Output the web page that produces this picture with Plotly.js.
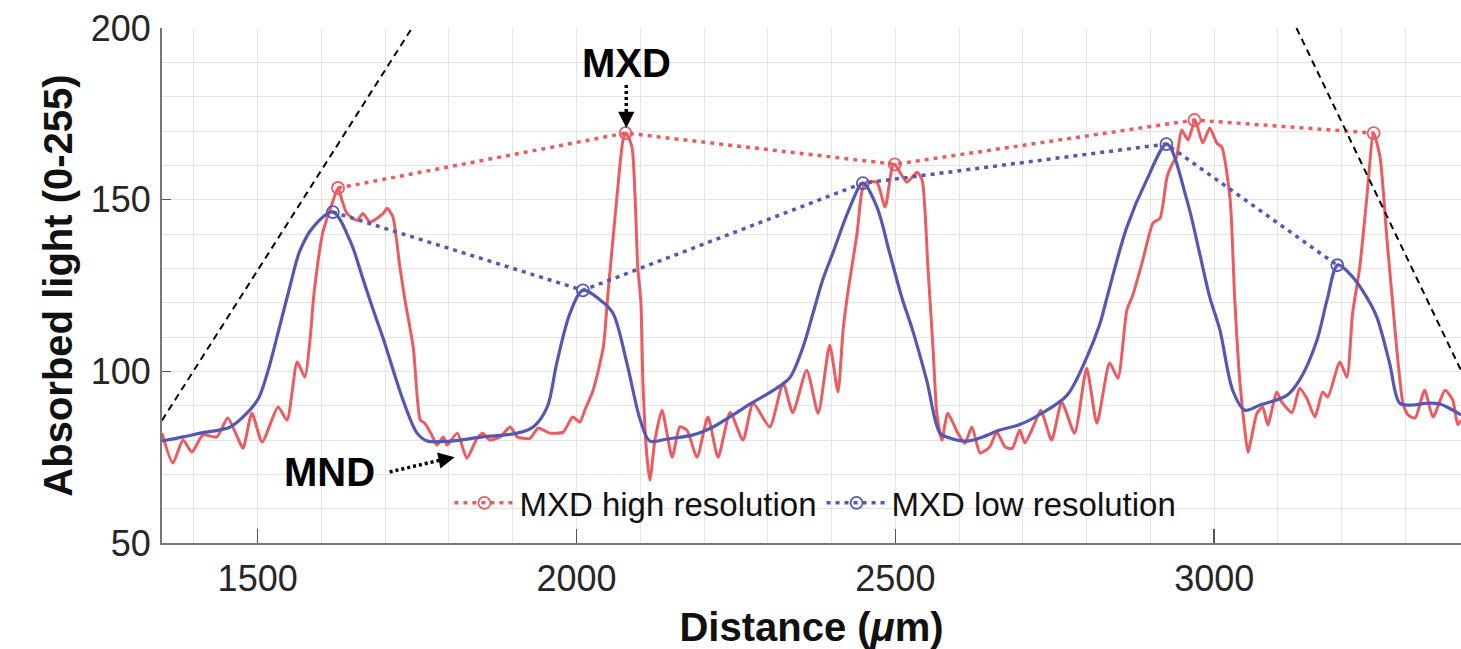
<!DOCTYPE html>
<html>
<head>
<meta charset="utf-8">
<script src="https://cdn.plot.ly/plotly-3.0.1.min.js"></script>
<style>
  html, body { margin: 0; padding: 0; background: #ffffff; }
  #chart { width: 1461px; height: 649px; }
</style>
</head>
<body>
<div id="chart"></div>
<script>
// ---------- Data ----------
// High-resolution absorbed-light profile (red solid)
const redX = [1350,1367,1383,1397,1414,1436,1453,1468,1477,1491,1507,1532,1546,1562,1574,1582,1588,1602,1617,1626,1632,1640,1656,1665,1676,1697,1703,1712,1723,1731,1744,1755,1762,1773,1781,1791,1797,1813,1828,1844,1853,1864,1880,1896,1907,1927,1940,1958,1979,1994,2005,2013,2026,2042,2049,2063,2073,2078,2087,2092,2096,2101,2104,2110,2115,2123,2134,2150,2162,2173,2189,2206,2222,2241,2261,2277,2303,2324,2339,2361,2379,2397,2410,2418,2426,2440,2448,2455,2471,2484,2495,2499,2518,2534,2542,2551,2559,2565,2573,2582,2598,2609,2620,2633,2648,2659,2672,2683,2695,2703,2716,2728,2745,2761,2781,2800,2816,2836,2849,2863,2872,2888,2904,2915,2926,2935,2941,2949,2959,2970,2982,2993,3004,3012,3025,3032,3040,3048,3053,3067,3076,3084,3098,3106,3122,3134,3145,3158,3170,3178,3197,3208,3217,3228,3239,3250,3260,3271,3279,3286,3296,3304,3315,3330,3343,3362,3374,3382,3387];
const redY = [82,73.3,80,76.5,81.5,80.9,86.4,80.9,77.6,87.8,79.4,89.6,85.8,102.7,98.3,109,122,140.3,149,153.4,150,146,144,146,143.5,146,147.5,145,130.4,120.8,107,85.8,84.9,81.5,78.5,80.9,78.5,82,74.7,80.5,82,80,80.9,83.8,80.9,80.5,83.5,82,82.3,86.7,85.2,88.7,94.5,107,122,150,167.4,169.4,165.3,150,130.4,120,97.5,76.2,68.3,80,88.7,75,83.8,82.9,75,86.7,75,88,80,90.7,83.8,96.6,88,100.3,87.8,107.6,94,112,123.6,140.3,152.8,155.1,155.1,147.9,159.5,160.3,155.1,158,155.7,130.4,107,87.8,80,87.8,82,79,83.8,76.2,78,82.3,78,77.5,82.9,79.2,83.8,88.7,80,91,82,100.9,84.9,102.4,98,117.8,122,132.4,143.2,144.6,156.6,160.7,162.4,170.3,167.4,173.2,166.5,170.9,166.5,165.3,150,121.6,97.5,82.9,76.5,87.8,89.6,84.4,94,91,88,95.1,92.2,86.7,94,92.5,102.7,98.3,117,130,150,169.4,162.4,138.2,121.6,107,90.7,87.3,86.4,94.5,86.7,94.5,91.6,84.4,85.8];

// Low-resolution absorbed-light profile (blue solid)
const blueX = [1350,1383,1410,1457,1483,1501,1516,1533,1551,1566,1587,1618,1645,1665,1681,1697,1728,1750,1766,1802,1853,1907,1932,1954,1969,1990,2010,2037,2057,2079,2100,2115,2142,2183,2214,2245,2277,2314,2335,2355,2371,2386,2402,2429,2449,2471,2491,2510,2527,2549,2570,2585,2612,2637,2664,2695,2727,2769,2800,2821,2832,2863,2894,2926,2957,2977,2993,3009,3029,3048,3072,3114,3134,3161,3177,3194,3217,3239,3255,3275,3291,3311,3333,3354,3374,3387];
const blueY = [79.7,80.9,82,83.8,87.8,92,100,112,125,135,142,146.4,138,127,118,109.5,91.6,82,79.7,79.7,80.9,82,83.8,89.6,102.4,117,123.6,120.8,117,102.4,85.8,79.7,80.3,81.5,83.8,87.3,91,95.1,98.3,107,117,126.6,134.5,147.9,154.8,147.9,134.5,121.6,112,97.5,82,80.6,79.7,80.9,82.9,84.5,87.5,93,104,114,121.6,142,155.7,166.2,150,134.5,121.6,112,94.5,88.7,90.2,93,97.5,109,120.8,131,127.5,121.6,115.8,102.4,90.7,90.2,90.7,90.5,88.7,87.3];

// MXD (maximum density) points
const mxdHighX = [1626, 2077, 2499, 2969, 3250];
const mxdHighY = [153.4, 169.4, 160.3, 173.2, 169.4];
const mxdLowX  = [1618, 2010, 2449, 2925, 3193];
const mxdLowY  = [146.4, 123.6, 154.8, 166.2, 130.9];

// Dashed guide lines
const guideLeftX  = [1350, 1742];
const guideLeftY  = [85.7, 200];
const guideRightX = [3129, 3387];
const guideRightY = [200, 100.3];

// Labels
const seriesNames = ["MXD high resolution", "MXD low resolution"];
const xTicks = [1500, 2000, 2500, 3000];
const yTicks = [50, 100, 150, 200];

// ---------- Styling ----------
const RED = "#ec5b5f";
const BLUE = "#5558b2";
const FONT = "Liberation Sans, Arial, Helvetica, sans-serif";

const traces = [
  { x: redX, y: redY, type: "scatter", mode: "lines", showlegend: false, hoverinfo: "skip",
    line: { color: RED, width: 3, shape: "spline", smoothing: 0.6 } },
  { x: blueX, y: blueY, type: "scatter", mode: "lines", showlegend: false, hoverinfo: "skip",
    line: { color: BLUE, width: 3.2, shape: "spline", smoothing: 0.9 } },
  { x: mxdHighX, y: mxdHighY, type: "scatter", mode: "lines+markers", name: seriesNames[0],
    line: { color: RED, width: 3.5, dash: "4px,5px" },
    marker: { symbol: "circle-open", size: 12, color: RED, line: { width: 1.8, color: RED } } },
  { x: mxdLowX, y: mxdLowY, type: "scatter", mode: "lines+markers", name: seriesNames[1],
    line: { color: BLUE, width: 3.5, dash: "4px,5px" },
    marker: { symbol: "circle-open", size: 12, color: BLUE, line: { width: 1.8, color: BLUE } } },
  { x: guideLeftX, y: guideLeftY, type: "scatter", mode: "lines", showlegend: false, hoverinfo: "skip",
    line: { color: "#000000", width: 2, dash: "7px,5px" } },
  { x: guideRightX, y: guideRightY, type: "scatter", mode: "lines", showlegend: false, hoverinfo: "skip",
    line: { color: "#000000", width: 2, dash: "7px,5px" } }
];

const layout = {
  width: 1461, height: 649,
  margin: { l: 162, r: 0, t: 28, b: 106, pad: 0 },
  paper_bgcolor: "#ffffff", plot_bgcolor: "#ffffff",
  font: { family: FONT, color: "#262626" },
  showlegend: true,
  legend: {
    orientation: "h", x: 0.503, xanchor: "center", y: 0.078, yanchor: "middle",
    bgcolor: "rgba(0,0,0,0)", borderwidth: 0,
    font: { family: FONT, size: 33, color: "#111111" },
    itemwidth: 60, tracegroupgap: 0
  },
  xaxis: {
    range: [1350, 3387], tickvals: xTicks, ticktext: xTicks.map(String),
    ticks: "inside", ticklen: 14, tickwidth: 1.5, tickcolor: "#555555",
    showline: true, linecolor: "#777777", linewidth: 2,
    showgrid: true, gridcolor: "#e4e4e4", gridwidth: 1,
    minor: { dtick: 100, tick0: 1300, showgrid: true, gridcolor: "#e4e4e4", gridwidth: 1, ticks: "" },
    zeroline: false, mirror: false,
    tickfont: { family: FONT, size: 36, color: "#262626" },
    ticklabelstandoff: 3,
    title: { text: "<b>Distance (<i>μ</i>m)</b>", font: { family: FONT, size: 40, color: "#111111" }, standoff: 17 }
  },
  yaxis: {
    range: [50, 200], tickvals: yTicks, ticktext: yTicks.map(String),
    ticks: "inside", ticklen: 9, tickwidth: 1.5, tickcolor: "#555555",
    showline: true, linecolor: "#777777", linewidth: 2,
    showgrid: true, gridcolor: "#e4e4e4", gridwidth: 1,
    minor: { dtick: 10, tick0: 50, showgrid: true, gridcolor: "#e4e4e4", gridwidth: 1, ticks: "" },
    zeroline: false, mirror: false,
    tickfont: { family: FONT, size: 36, color: "#262626" },
    ticklabelstandoff: 2,
    title: { text: "<b>Absorbed light (0-255)</b>", font: { family: FONT, size: 40, color: "#111111" }, standoff: 6 }
  },
  shapes: [
    { type: "line", xref: "x", yref: "y", x0: 2078, y0: 183.4, x1: 2078, y1: 175,
      line: { color: "#000000", width: 3.5, dash: "3px,3px" } },
    { type: "line", xref: "x", yref: "y", x0: 1707, y0: 70.7, x1: 1790, y1: 74.3,
      line: { color: "#000000", width: 3.5, dash: "3px,3px" } }
  ],
  annotations: [
    { text: "<b>MXD</b>", x: 2078, y: 189.8, xref: "x", yref: "y", showarrow: false,
      xanchor: "center", yanchor: "middle", font: { family: FONT, size: 40, color: "#000000" } },
    { text: "", x: 2078, y: 170.9, xref: "x", yref: "y", showarrow: true,
      ax: 2078, ay: 175.5, axref: "x", ayref: "y",
      arrowhead: 2, arrowsize: 1.3, arrowwidth: 2.5, arrowcolor: "#000000" },
    { text: "<b>MND</b>", x: 1613, y: 70.7, xref: "x", yref: "y", showarrow: false,
      xanchor: "center", yanchor: "middle", font: { family: FONT, size: 40, color: "#000000" } },
    { text: "", x: 1809, y: 75.0, xref: "x", yref: "y", showarrow: true,
      ax: 1788, ay: 74.2, axref: "x", ayref: "y",
      arrowhead: 2, arrowsize: 1.3, arrowwidth: 2.5, arrowcolor: "#000000" }
  ]
};

Plotly.newPlot("chart", traces, layout, { displayModeBar: false, staticPlot: true });
</script>
</body>
</html>
